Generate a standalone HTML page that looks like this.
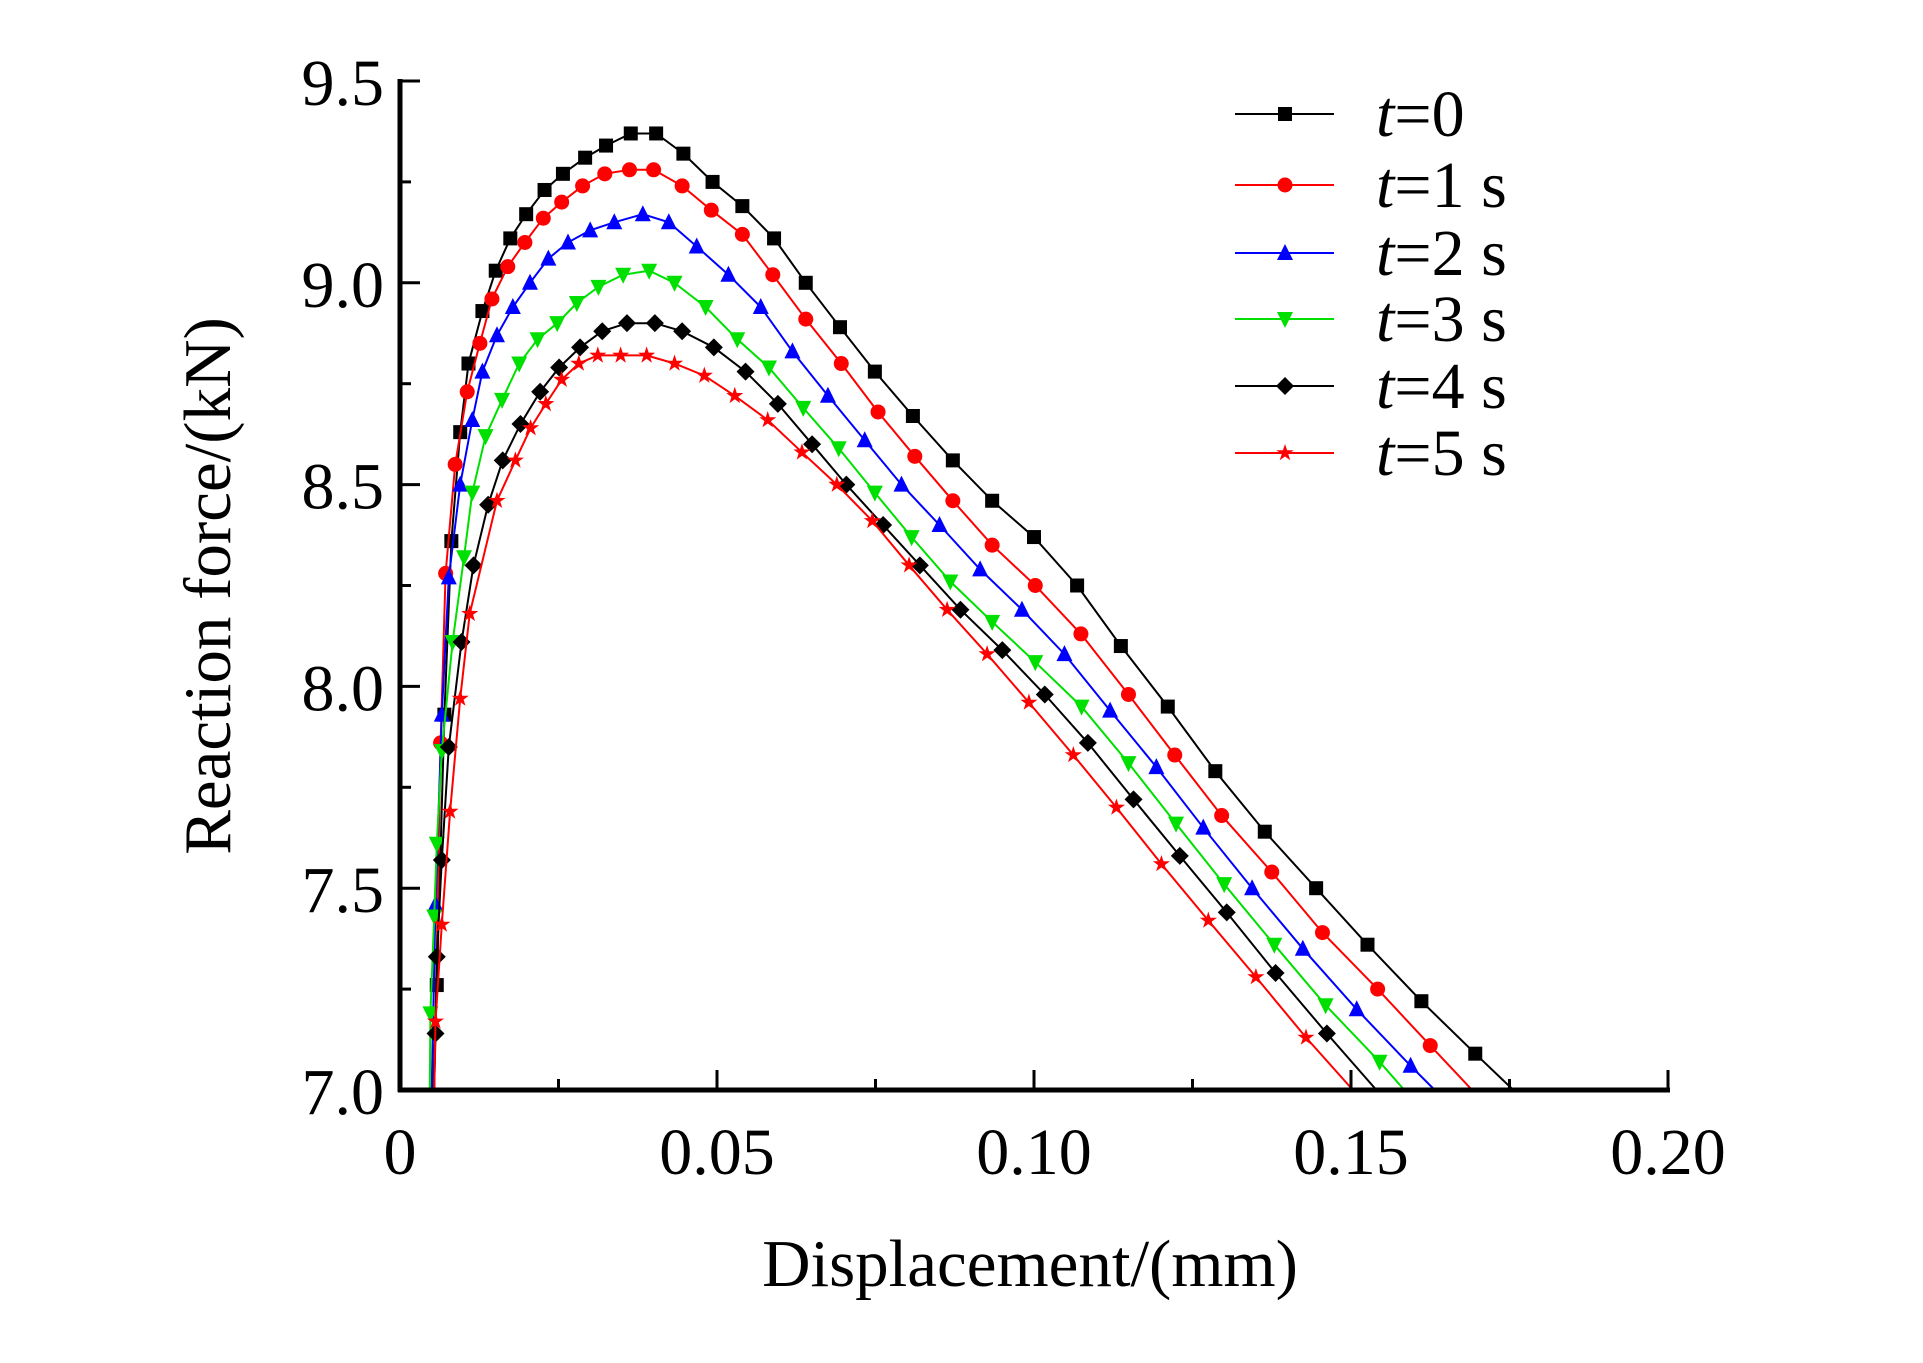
<!DOCTYPE html>
<html><head><meta charset="utf-8"><style>
html,body{margin:0;padding:0;background:#fff;}
svg{display:block;font-family:"Liberation Serif",serif;}
</style></head><body>
<svg id="chart" width="1923" height="1363" viewBox="0 0 1923 1363" xmlns="http://www.w3.org/2000/svg">
<rect width="1923" height="1363" fill="#fff"/>
<defs><clipPath id="pc"><rect x="400" y="60" width="1268" height="1030"/></clipPath></defs>
<g id="series" clip-path="url(#pc)"></g>
<g id="axes"></g>
<g id="legend"></g>
</svg>
<script>
const xTicks=[0,0.05,0.10,0.15,0.20];
const xTickLabels=["0","0.05","0.10","0.15","0.20"];
const yTicks=[7.0,7.5,8.0,8.5,9.0,9.5];
const yTickLabels=["7.0","7.5","8.0","8.5","9.0","9.5"];
const seriesNames=["=0","=1 s","=2 s","=3 s","=4 s","=5 s"];
const x0=[.0052,.0058,.0070,.0081,.0095,.0108,.0130,.0151,.0174,.0199,.0228,.0257,.0292,.0325,.0364,.0404,.0447,.0493,.0540,.0590,.0640,.0694,.0749,.0809,.0872,.0934,.1000,.1068,.1137,.1211,.1286,.1364,.1445,.1526,.1611,.1696,.1756];
const y0=[7.0,7.26,7.93,8.36,8.63,8.80,8.93,9.03,9.11,9.17,9.23,9.27,9.31,9.34,9.37,9.37,9.32,9.25,9.19,9.11,9.00,8.89,8.78,8.67,8.56,8.46,8.37,8.25,8.10,7.95,7.79,7.64,7.50,7.36,7.22,7.09,7.0];
const x1=[.0054,.0064,.0072,.0087,.0106,.0126,.0145,.0170,.0197,.0226,.0255,.0288,.0323,.0362,.0400,.0445,.0491,.0540,.0588,.0640,.0696,.0754,.0812,.0872,.0934,.1002,.1074,.1149,.1222,.1296,.1375,.1455,.1542,.1625,.1691];
const y1=[7.0,7.86,8.28,8.55,8.73,8.85,8.96,9.04,9.10,9.16,9.20,9.24,9.27,9.28,9.28,9.24,9.18,9.12,9.02,8.91,8.80,8.68,8.57,8.46,8.35,8.25,8.13,7.98,7.83,7.68,7.54,7.39,7.25,7.11,7.0];
const x2=[.0050,.0056,.0066,.0077,.0095,.0114,.0130,.0153,.0178,.0205,.0234,.0265,.0300,.0338,.0383,.0424,.0468,.0518,.0569,.0619,.0675,.0733,.0791,.0851,.0915,.0981,.1048,.1120,.1193,.1267,.1344,.1424,.1509,.1594,.1632];
const y2=[7.0,7.46,7.93,8.27,8.50,8.66,8.78,8.87,8.94,9.00,9.06,9.10,9.13,9.15,9.17,9.15,9.09,9.02,8.94,8.83,8.72,8.61,8.50,8.40,8.29,8.19,8.08,7.94,7.80,7.65,7.50,7.35,7.20,7.06,7.0];
const x3=[.0047,.0048,.0054,.0058,.0066,.0083,.0101,.0114,.0135,.0161,.0188,.0217,.0248,.0279,.0313,.0352,.0393,.0433,.0482,.0532,.0582,.0636,.0692,.0749,.0807,.0868,.0934,.1002,.1075,.1149,.1224,.1300,.1379,.1460,.1545,.1584];
const y3=[7.0,7.19,7.43,7.61,7.84,8.11,8.32,8.48,8.62,8.71,8.80,8.86,8.90,8.95,8.99,9.02,9.03,9.00,8.94,8.86,8.79,8.69,8.59,8.48,8.37,8.26,8.16,8.06,7.95,7.81,7.66,7.51,7.36,7.21,7.07,7.0];
const x4=[.0054,.0056,.0058,.0066,.0077,.0097,.0116,.0139,.0162,.0190,.0221,.0251,.0284,.0319,.0358,.0402,.0445,.0495,.0545,.0596,.0650,.0704,.0762,.0820,.0884,.0950,.1017,.1085,.1157,.1230,.1304,.1381,.1462,.1540];
const y4=[7.0,7.14,7.33,7.57,7.85,8.11,8.30,8.45,8.56,8.65,8.73,8.79,8.84,8.88,8.90,8.90,8.88,8.84,8.78,8.70,8.60,8.50,8.40,8.30,8.19,8.09,7.98,7.86,7.72,7.58,7.44,7.29,7.14,7.0];
const x5=[.0054,.0056,.0066,.0079,.0095,.0110,.0153,.0182,.0206,.0230,.0255,.0282,.0312,.0348,.0389,.0433,.0480,.0528,.0580,.0634,.0689,.0745,.0803,.0863,.0926,.0992,.1062,.1130,.1201,.1275,.1350,.1429,.1503];
const y5=[7.0,7.17,7.41,7.69,7.97,8.18,8.46,8.56,8.64,8.70,8.76,8.80,8.82,8.82,8.82,8.80,8.77,8.72,8.66,8.58,8.50,8.41,8.30,8.19,8.08,7.96,7.83,7.70,7.56,7.42,7.28,7.13,7.0];

const NS="http://www.w3.org/2000/svg";
const L=400,R=1668,T=81,B=1090;
function sx(v){return L+(v-0)/(0.2-0)*(R-L);}
function sy(v){return B-(v-7.0)/(9.5-7.0)*(B-T);}
function mk(tag,attrs,parent){const e=document.createElementNS(NS,tag);for(const k in attrs)e.setAttribute(k,attrs[k]);parent.appendChild(e);return e;}

const colors=["#000","#ff0000","#0000ff","#00e000","#000","#ff0000"];
const shapes=["square","circle","triangle","tridown","diamond","star"];
const XS=[x0,x1,x2,x3,x4,x5],YS=[y0,y1,y2,y3,y4,y5];

function marker(shape,cx,cy,color,parent){
  const s=7;let e;
  if(shape==="square")e=mk("rect",{x:cx-s,y:cy-s,width:2*s,height:2*s,fill:color},parent);
  else if(shape==="circle")e=mk("circle",{cx:cx,cy:cy,r:s+0.5,fill:color},parent);
  else if(shape==="triangle")e=mk("polygon",{points:`${cx},${cy-s-2} ${cx-s-1},${cy+s} ${cx+s+1},${cy+s}`,fill:color},parent);
  else if(shape==="tridown")e=mk("polygon",{points:`${cx},${cy+s+2} ${cx-s-1},${cy-s} ${cx+s+1},${cy-s}`,fill:color},parent);
  else if(shape==="diamond")e=mk("polygon",{points:`${cx},${cy-s-2} ${cx+s+2},${cy} ${cx},${cy+s+2} ${cx-s-2},${cy}`,fill:color},parent);
  else{let p=[];for(let i=0;i<10;i++){const r=i%2?3.5:s+2;const a=-Math.PI/2+i*Math.PI/5;p.push((cx+r*Math.cos(a)).toFixed(1)+","+(cy+r*Math.sin(a)).toFixed(1));}
    e=mk("polygon",{points:p.join(" "),fill:color},parent);}
  return e;
}

const sg=document.getElementById("series");
for(let i=0;i<6;i++){
  const g=mk("g",{},sg);
  
  
  const pts=XS[i].map((x,j)=>sx(x).toFixed(1)+","+sy(YS[i][j]).toFixed(1)).join(" ");
  const pl=mk("polyline",{points:pts,fill:"none",stroke:colors[i],"stroke-width":2},g);
  
  
  for(let j=1;j<XS[i].length-1;j++){
    const m=marker(shapes[i],sx(XS[i][j]),sy(YS[i][j]),colors[i],g);
    
    
  }
}

const ax=document.getElementById("axes");
const yl=mk("line",{x1:L,y1:T-2,x2:L,y2:B+2,stroke:"#000","stroke-width":5},ax);


const xl=mk("line",{x1:L-2,y1:B,x2:R+2,y2:B,stroke:"#000","stroke-width":5},ax);


xTicks.forEach((v,i)=>{
  mk("line",{x1:sx(v),y1:B,x2:sx(v),y2:B-20,stroke:"#000","stroke-width":3},ax);
  if(i<xTicks.length-1){const m=sx(v+0.025);mk("line",{x1:m,y1:B,x2:m,y2:B-11,stroke:"#000","stroke-width":3},ax);}
  const t=mk("text",{x:sx(v),y:1174,"font-size":66,"text-anchor":"middle"},ax);
  t.textContent=xTickLabels[i];
  
  
});
yTicks.forEach((v,i)=>{
  mk("line",{x1:L,y1:sy(v),x2:L+20,y2:sy(v),stroke:"#000","stroke-width":3},ax);
  if(i<yTicks.length-1){const m=sy(v+0.25);mk("line",{x1:L,y1:m,x2:L+11,y2:m,stroke:"#000","stroke-width":3},ax);}
  const t=mk("text",{x:384,y:sy(v)+24,"font-size":66,"text-anchor":"end"},ax);
  t.textContent=yTickLabels[i];
  
  
});
const xt=mk("text",{x:1030,y:1286,"font-size":67,"text-anchor":"middle"},ax);
xt.textContent="Displacement/(mm)";


const yt=mk("text",{x:0,y:0,"font-size":67,"text-anchor":"middle",transform:"translate(230,586) rotate(-90)"},ax);
yt.textContent="Reaction force/(kN)";



const lg=document.getElementById("legend");
const ly=[114,185,253,319,386,453];
for(let i=0;i<6;i++){
  const g=mk("g",{},lg);
  
  
  mk("line",{x1:1235,y1:ly[i],x2:1334,y2:ly[i],stroke:colors[i],"stroke-width":2},g);
  marker(shapes[i],1285,ly[i],colors[i],g);
  const t=mk("text",{x:1376,y:ly[i]+22,"font-size":66},g);
  const it=mk("tspan",{"font-style":"italic"},t);it.textContent="t";
  const rest=mk("tspan",{},t);rest.textContent=seriesNames[i];
}
</script>
</body></html>
